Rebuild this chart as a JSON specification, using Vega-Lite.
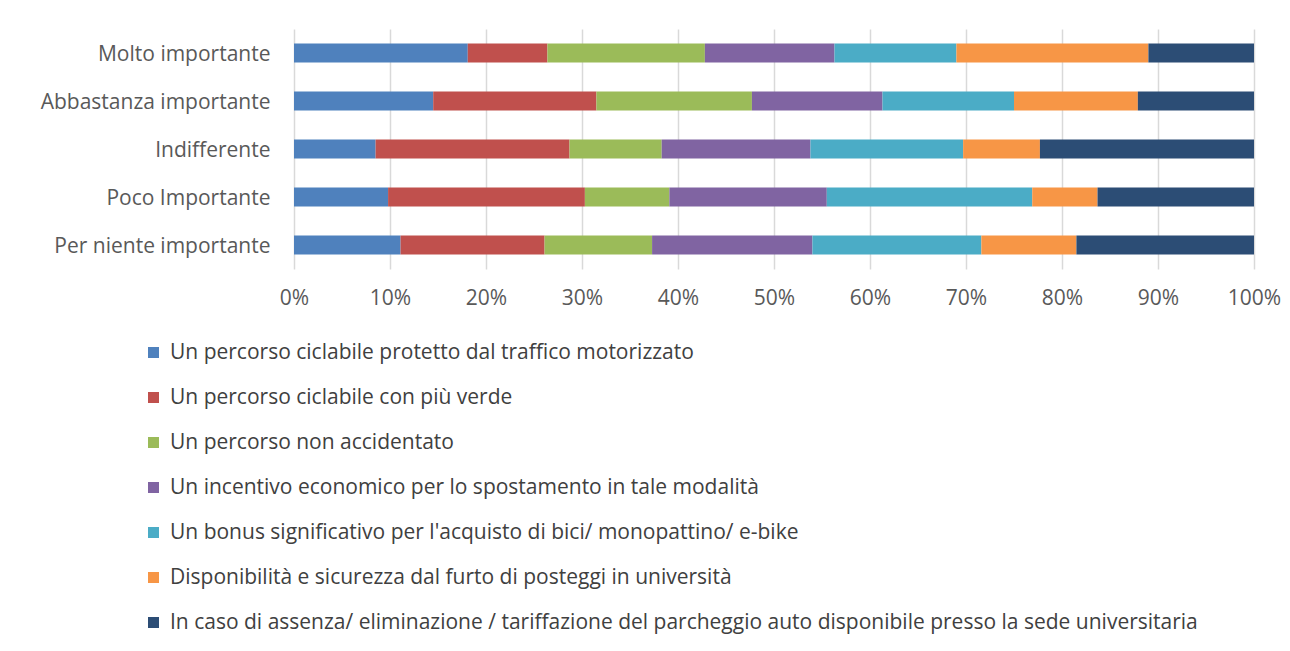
{
  "$schema": "https://vega.github.io/schema/vega-lite/v6.json",
  "width": 960,
  "height": 240,
  "autosize": {"type": "none"},
  "padding": {"left": 294, "top": 29, "right": 36, "bottom": 382},
  "background": "white",
  "data": {
    "values": [
      {"cat": "Molto importante", "s": 1, "v": 18.1},
      {"cat": "Molto importante", "s": 2, "v": 8.3},
      {"cat": "Molto importante", "s": 3, "v": 16.4},
      {"cat": "Molto importante", "s": 4, "v": 13.5},
      {"cat": "Molto importante", "s": 5, "v": 12.7},
      {"cat": "Molto importante", "s": 6, "v": 20.0},
      {"cat": "Molto importante", "s": 7, "v": 11.0},
      {"cat": "Abbastanza importante", "s": 1, "v": 14.5},
      {"cat": "Abbastanza importante", "s": 2, "v": 17.0},
      {"cat": "Abbastanza importante", "s": 3, "v": 16.2},
      {"cat": "Abbastanza importante", "s": 4, "v": 13.6},
      {"cat": "Abbastanza importante", "s": 5, "v": 13.7},
      {"cat": "Abbastanza importante", "s": 6, "v": 12.9},
      {"cat": "Abbastanza importante", "s": 7, "v": 12.1},
      {"cat": "Indifferente", "s": 1, "v": 8.5},
      {"cat": "Indifferente", "s": 2, "v": 20.2},
      {"cat": "Indifferente", "s": 3, "v": 9.6},
      {"cat": "Indifferente", "s": 4, "v": 15.5},
      {"cat": "Indifferente", "s": 5, "v": 15.9},
      {"cat": "Indifferente", "s": 6, "v": 8.0},
      {"cat": "Indifferente", "s": 7, "v": 22.3},
      {"cat": "Poco Importante", "s": 1, "v": 9.8},
      {"cat": "Poco Importante", "s": 2, "v": 20.5},
      {"cat": "Poco Importante", "s": 3, "v": 8.8},
      {"cat": "Poco Importante", "s": 4, "v": 16.4},
      {"cat": "Poco Importante", "s": 5, "v": 21.4},
      {"cat": "Poco Importante", "s": 6, "v": 6.8},
      {"cat": "Poco Importante", "s": 7, "v": 16.3},
      {"cat": "Per niente importante", "s": 1, "v": 11.1},
      {"cat": "Per niente importante", "s": 2, "v": 15.0},
      {"cat": "Per niente importante", "s": 3, "v": 11.2},
      {"cat": "Per niente importante", "s": 4, "v": 16.7},
      {"cat": "Per niente importante", "s": 5, "v": 17.6},
      {"cat": "Per niente importante", "s": 6, "v": 9.9},
      {"cat": "Per niente importante", "s": 7, "v": 18.5}
    ]
  },
  "mark": {"type": "bar"},
  "encoding": {
    "y": {
      "field": "cat",
      "type": "nominal",
      "sort": ["Molto importante", "Abbastanza importante", "Indifferente", "Poco Importante", "Per niente importante"],
      "scale": {"paddingInner": 0.6, "paddingOuter": 0.3},
      "axis": {
        "title": null,
        "domain": false,
        "ticks": false,
        "labelPadding": 24,
        "labelOffset": 2,
        "labelFont": "Open Sans",
        "labelFontSize": 21,
        "labelColor": "#595959",
        "labelLimit": 400
      }
    },
    "x": {
      "field": "v",
      "type": "quantitative",
      "stack": "normalize",
      "scale": {"domain": [0, 1], "nice": false},
      "axis": {
        "title": null,
        "format": "%",
        "values": [0, 0.1, 0.2, 0.3, 0.4, 0.5, 0.6, 0.7, 0.8, 0.9, 1],
        "domain": false,
        "ticks": false,
        "grid": true,
        "gridColor": "#D9D9D9",
        "gridWidth": 1.5,
        "labelPadding": 18,
        "labelFont": "Open Sans",
        "labelFontSize": 21,
        "labelColor": "#595959",
        "labelFlush": false
      }
    },
    "color": {
      "field": "s",
      "type": "nominal",
      "scale": {
        "domain": [1, 2, 3, 4, 5, 6, 7],
        "range": ["#4F81BD", "#C0504D", "#9BBB59", "#8064A2", "#4BACC6", "#F79646", "#2C4D75"]
      },
      "legend": {
        "title": null,
        "orient": "none",
        "legendX": -151,
        "legendY": 313,
        "direction": "vertical",
        "symbolType": "square",
        "symbolSize": 121,
        "symbolStrokeWidth": 0,
        "labelOffset": 6,
        "rowPadding": 23,
        "labelFont": "Open Sans",
        "labelFontSize": 21,
        "labelColor": "#404040",
        "labelLimit": 1200,
        "labelExpr": "['', 'Un percorso ciclabile protetto dal traffico motorizzato', 'Un percorso ciclabile con più verde', 'Un percorso non accidentato', 'Un incentivo economico per lo spostamento in tale modalità', 'Un bonus significativo per l\\'acquisto di bici/ monopattino/ e-bike', 'Disponibilità e sicurezza dal furto di posteggi in università', 'In caso di assenza/ eliminazione / tariffazione del parcheggio auto disponibile presso la sede universitaria'][datum.value]"
      }
    },
    "order": {"field": "s", "type": "quantitative"}
  },
  "config": {"view": {"stroke": null}}
}
